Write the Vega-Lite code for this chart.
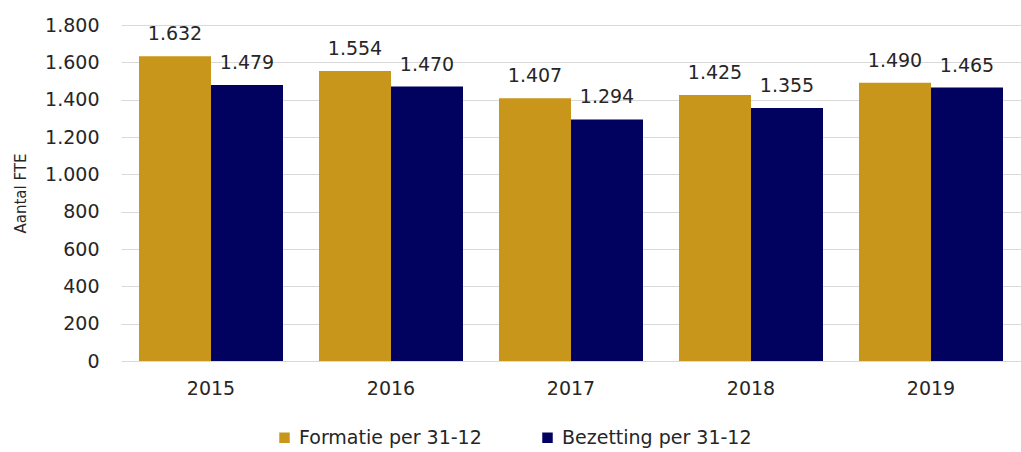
{
  "$schema": "https://vega.github.io/schema/vega-lite/v6.json",
  "width": 900,
  "height": 336,
  "autosize": {"type": "none"},
  "padding": {"left": 121, "top": 25, "right": 0, "bottom": 91},
  "background": "white",
  "config": {
    "locale": {"number": {"decimal": ",", "thousands": ".", "grouping": [3], "currency": ["€", ""]}},
    "font": "DejaVu Sans",
    "view": {"stroke": null}
  },
  "data": {
    "values": [
      {"jaar": "2015", "serie": "Formatie per 31-12", "fte": 1632},
      {"jaar": "2015", "serie": "Bezetting per 31-12", "fte": 1479},
      {"jaar": "2016", "serie": "Formatie per 31-12", "fte": 1554},
      {"jaar": "2016", "serie": "Bezetting per 31-12", "fte": 1470},
      {"jaar": "2017", "serie": "Formatie per 31-12", "fte": 1407},
      {"jaar": "2017", "serie": "Bezetting per 31-12", "fte": 1294},
      {"jaar": "2018", "serie": "Formatie per 31-12", "fte": 1425},
      {"jaar": "2018", "serie": "Bezetting per 31-12", "fte": 1355},
      {"jaar": "2019", "serie": "Formatie per 31-12", "fte": 1490},
      {"jaar": "2019", "serie": "Bezetting per 31-12", "fte": 1465}
    ]
  },
  "encoding": {
    "x": {
      "field": "jaar", "type": "nominal", "title": null,
      "scale": {"paddingInner": 0.2, "paddingOuter": 0.1},
      "axis": {"labelAngle": 0, "labelFontSize": 19, "labelColor": "#262626", "labelPadding": 18, "ticks": false, "domain": false}
    },
    "xOffset": {"field": "serie", "type": "nominal", "sort": ["Formatie per 31-12", "Bezetting per 31-12"]},
    "y": {
      "field": "fte", "type": "quantitative", "title": "Aantal FTE",
      "scale": {"domain": [0, 1800]},
      "axis": {"values": [0, 200, 400, 600, 800, 1000, 1200, 1400, 1600, 1800], "format": ",d", "labelFontSize": 19, "labelColor": "#262626", "labelPadding": 22, "ticks": false, "domain": false, "gridColor": "#d9d9d9", "titleFontSize": 15, "titleFontWeight": "normal", "titleColor": "#262626", "titlePadding": 16}
    }
  },
  "layer": [
    {
      "mark": {"type": "bar"},
      "encoding": {
        "color": {
          "field": "serie", "type": "nominal", "sort": ["Formatie per 31-12", "Bezetting per 31-12"],
          "scale": {"domain": ["Formatie per 31-12", "Bezetting per 31-12"], "range": ["#C8961A", "#01015F"]},
          "legend": {"title": null, "orient": "none", "legendX": 154, "legendY": 403, "direction": "horizontal", "symbolType": "square", "symbolSize": 110, "symbolStrokeWidth": 0, "labelFontSize": 19, "labelColor": "#262626", "labelLimit": 400, "columnPadding": 56, "labelOffset": 5}
        }
      }
    },
    {
      "mark": {"type": "text", "baseline": "bottom", "dy": -12, "fontSize": 19, "color": "#262626"},
      "encoding": {
        "text": {"field": "fte", "type": "quantitative", "format": ",d"}
      }
    }
  ]
}
